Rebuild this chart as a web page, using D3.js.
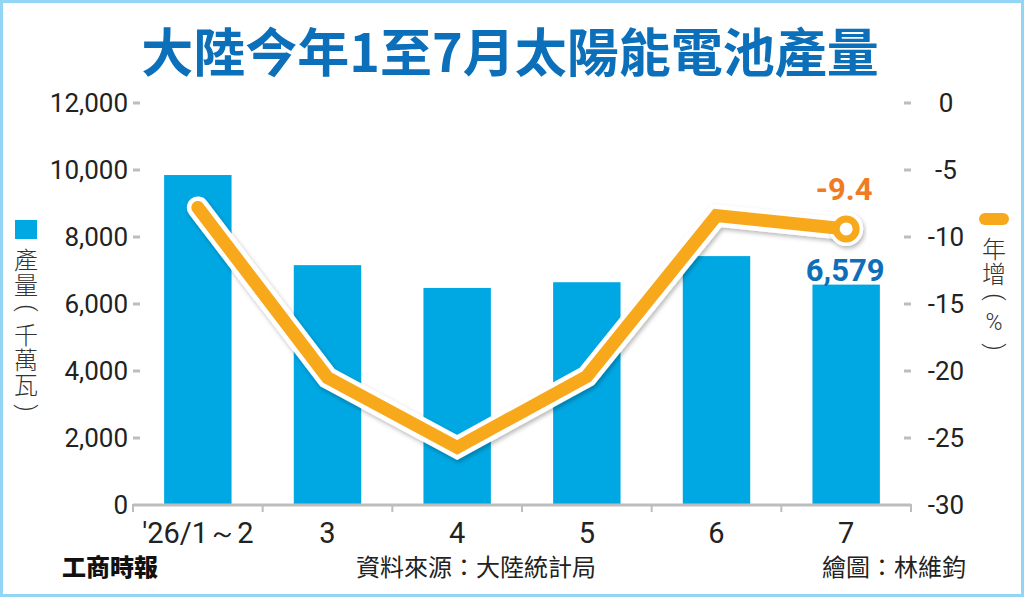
<!DOCTYPE html>
<html>
<head>
<meta charset="utf-8">
<script src="https://cdn.jsdelivr.net/npm/d3@7"></script>
<style>
html,body{margin:0;padding:0;background:#fff;}
svg{display:block;}
</style>
</head>
<body>
<script>
const categories = ["'26/1～2", "3", "4", "5", "6", "7"];
const output = [9850, 7160, 6480, 6650, 7430, 6579];
const yoy = [-7.8, -20.5, -25.7, -20.4, -8.4, -9.4];
const leftTicks = [0, 2000, 4000, 6000, 8000, 10000, 12000];
const rightTicks = [0, -5, -10, -15, -20, -25, -30];
const title = "大陸今年1至7月太陽能電池產量";
const leftLegend = ["產", "量", "(", "千", "萬", "瓦", ")"];
const rightLegend = ["年", "增", "(", "%", ")"];

const W = 1024, H = 598;
const svg = d3.select("body").append("svg").attr("width", W).attr("height", H);
const cjk = "'Noto Sans CJK TC','Noto Sans CJK SC',sans-serif";
const num = "Roboto,'Noto Sans',sans-serif";

const defs = svg.append("defs");
const f = defs.append("filter").attr("id", "sh").attr("x", "-10%").attr("y", "-10%").attr("width", "120%").attr("height", "130%");
f.append("feDropShadow").attr("dx", 1.5).attr("dy", 2.5).attr("stdDeviation", 2).attr("flood-color", "#000").attr("flood-opacity", 0.28);

// frame
svg.append("rect").attr("x", 1.5).attr("y", 1.5).attr("width", W - 3).attr("height", H - 4)
  .attr("fill", "#fff").attr("stroke", "#92d5f5").attr("stroke-width", 3);

// title
svg.append("text").attr("x", 510).attr("y", 49).attr("text-anchor", "middle").attr("dominant-baseline", "central")
  .attr("font-family", cjk).attr("font-weight", 700).attr("font-size", 52).attr("fill", "#0b6fba").text(title);

const x = d3.scaleBand().domain(categories).range([133, 911]).paddingInner(0.48).paddingOuter(0.24);
const yL = d3.scaleLinear().domain([0, 12000]).range([505, 103]);
const yR = d3.scaleLinear().domain([-30, 0]).range([505, 103]);
const step = x.step();

// left ticks
const fmt = d3.format(",");
leftTicks.forEach(t => {
  if (t !== 0) svg.append("line").attr("x1", 133).attr("x2", 140).attr("y1", yL(t)).attr("y2", yL(t))
    .attr("stroke", "#bdbdbd").attr("stroke-width", 3);
  svg.append("text").attr("x", 128).attr("y", yL(t)).attr("text-anchor", "end").attr("dominant-baseline", "central")
    .attr("font-family", num).attr("font-size", 26).attr("fill", "#222").text(fmt(t));
});
rightTicks.forEach(t => {
  if (t !== -30) svg.append("line").attr("x1", 904).attr("x2", 911).attr("y1", yR(t)).attr("y2", yR(t))
    .attr("stroke", "#bdbdbd").attr("stroke-width", 3);
  svg.append("text").attr("x", 946).attr("y", yR(t)).attr("text-anchor", "middle").attr("dominant-baseline", "central")
    .attr("font-family", num).attr("font-size", 26).attr("fill", "#222").text(t);
});

// bars
svg.append("g").selectAll("rect").data(categories).join("rect")
  .attr("x", d => x(d)).attr("width", x.bandwidth())
  .attr("y", (d, i) => yL(output[i])).attr("height", (d, i) => yL(0) - yL(output[i]))
  .attr("fill", "#00a8e3");

// x axis
svg.append("line").attr("x1", 133).attr("x2", 911).attr("y1", 505).attr("y2", 505).attr("stroke", "#bdbdbd").attr("stroke-width", 3);
d3.range(categories.length + 1).forEach(i => {
  const bx = 133 + i * step;
  svg.append("line").attr("x1", bx).attr("x2", bx).attr("y1", 504).attr("y2", 512).attr("stroke", "#bdbdbd").attr("stroke-width", 2);
});
categories.forEach(c => {
  svg.append("text").attr("x", x(c) + x.bandwidth() / 2).attr("y", 543).attr("text-anchor", "middle")
    .attr("font-family", num).attr("font-size", 29).attr("fill", "#222").text(c);
});

// line
const pts = categories.map((c, i) => [x(c) + x.bandwidth() / 2, yR(yoy[i])]);
const line = d3.line();
const lg = svg.append("g");
lg.append("path").attr("d", line(pts)).attr("fill", "none").attr("stroke", "#fff").attr("stroke-width", 22)
  .attr("stroke-linejoin", "miter").attr("stroke-linecap", "round").attr("filter", "url(#sh)");
const last = pts[pts.length - 1];
lg.append("circle").attr("cx", last[0]).attr("cy", last[1]).attr("r", 17).attr("fill", "#fff").attr("filter", "url(#sh)");
lg.append("path").attr("d", line(pts)).attr("fill", "none").attr("stroke", "#f7a91b").attr("stroke-width", 13)
  .attr("stroke-linejoin", "miter").attr("stroke-linecap", "round");
lg.append("circle").attr("cx", last[0]).attr("cy", last[1]).attr("r", 10).attr("fill", "#fff").attr("stroke", "#f7a91b").attr("stroke-width", 7);

// value labels
svg.append("text").attr("x", last[0] - 2).attr("y", yR(yoy[5]) - 29).attr("text-anchor", "middle")
  .attr("font-family", num).attr("font-weight", 700).attr("font-size", 31).attr("fill", "#f07b22").text(yoy[5]);
svg.append("text").attr("x", x(categories[5]) + x.bandwidth() / 2 - 1).attr("y", yL(output[5]) - 4).attr("text-anchor", "middle")
  .attr("font-family", num).attr("font-weight", 700).attr("font-size", 31).attr("fill", "#0c6fb8").text(fmt(output[5]));

// vertical legend text
function vtext(chars, cx, y0) {
  chars.forEach((ch, i) => {
    const cy = y0 + i * 25;
    const paren = ch === "(" || ch === ")";
    const t = svg.append("text").attr("text-anchor", "middle").attr("dominant-baseline", "central")
      .attr("fill", "#333").text(ch);
    if (paren) {
      t.attr("transform", `translate(${cx},${cy}) rotate(90)`).attr("font-family", num).attr("font-weight", 300).attr("font-size", 23);
    } else {
      t.attr("x", cx).attr("y", cy).attr("font-family", ch === "%" ? num : cjk).attr("font-weight", 300)
        .attr("font-size", ch === "%" ? 23 : 24);
    }
  });
}
svg.append("rect").attr("x", 15).attr("y", 220).attr("width", 22).attr("height", 19).attr("fill", "#00a8e3");
vtext(leftLegend, 26, 258);
svg.append("rect").attr("x", 979).attr("y", 213).attr("width", 30).attr("height", 12).attr("rx", 6).attr("fill", "#f7a91b");
vtext(rightLegend, 994, 247);

// footer
svg.append("text").attr("x", 62).attr("y", 576).attr("font-family", cjk).attr("font-weight", 900).attr("font-size", 24).attr("fill", "#111").text("工商時報");
svg.append("text").attr("x", 476).attr("y", 576).attr("text-anchor", "middle").attr("font-family", cjk).attr("font-weight", 400).attr("font-size", 24).attr("fill", "#222").text("資料來源：大陸統計局");
svg.append("text").attr("x", 966).attr("y", 576).attr("text-anchor", "end").attr("font-family", cjk).attr("font-weight", 400).attr("font-size", 24).attr("fill", "#222").text("繪圖：林維鈞");
</script>
</body>
</html>
